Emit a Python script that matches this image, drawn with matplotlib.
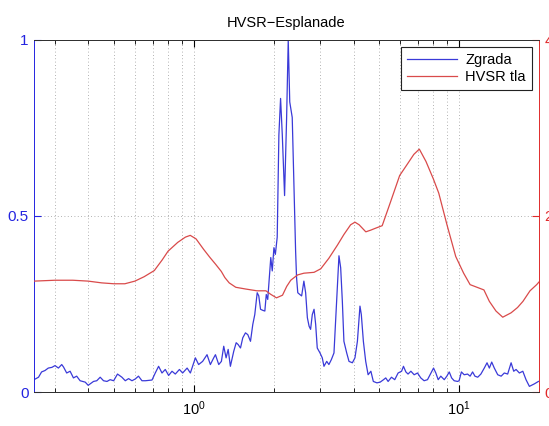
import matplotlib
matplotlib.use('Agg')
import matplotlib.pyplot as plt
from matplotlib.ticker import LogLocator, NullFormatter
import numpy as np

BLUE = '#3a3ad8'
RED = '#d94a4a'
AX_BLUE = '#2424e0'
AX_RED = '#e02a2a'

plt.rcParams.update({
    'font.family': ['Liberation Sans', 'DejaVu Sans'],
    'font.size': 10.5,
    'axes.linewidth': 0.7,
})

# building response (normalised), left axis
freq_z = [0.250, 0.260, 0.267, 0.275, 0.283, 0.292, 0.300, 0.309, 0.318, 0.323,
          0.332, 0.342, 0.352, 0.362, 0.373, 0.390, 0.400, 0.419, 0.431, 0.444,
          0.457, 0.471, 0.484, 0.499, 0.516, 0.536, 0.552, 0.568, 0.585, 0.602,
          0.619, 0.638, 0.657, 0.696, 0.716, 0.737, 0.759, 0.781, 0.804, 0.828,
          0.852, 0.883, 0.908, 0.944, 0.971, 1.014, 1.043, 1.080, 1.122, 1.155,
          1.189, 1.207, 1.242, 1.271, 1.297, 1.324, 1.348, 1.374, 1.415, 1.445,
          1.469, 1.500, 1.530, 1.566, 1.598, 1.636, 1.669, 1.698, 1.734, 1.758,
          1.785, 1.820, 1.853, 1.876, 1.900, 1.930, 1.951, 1.976, 2.005, 2.030,
          2.063, 2.093, 2.124, 2.156, 2.199, 2.238, 2.270, 2.300, 2.350, 2.385,
          2.420, 2.440, 2.466, 2.510, 2.550, 2.600, 2.640, 2.680, 2.720, 2.756,
          2.797, 2.840, 2.880, 2.920, 2.990, 3.050, 3.095, 3.170, 3.230, 3.300,
          3.376, 3.456, 3.525, 3.578, 3.630, 3.680, 3.770, 3.846, 3.960, 4.050,
          4.137, 4.230, 4.280, 4.357, 4.446, 4.540, 4.650, 4.750, 4.900, 5.040,
          5.190, 5.290, 5.400, 5.560, 5.720, 5.890, 6.070, 6.170, 6.300, 6.420,
          6.580, 6.770, 6.970, 7.170, 7.380, 7.600, 7.830, 8.010, 8.170, 8.340,
          8.530, 8.790, 8.990, 9.180, 9.370, 9.580, 9.870, 10.00, 10.20, 10.45,
          10.76, 11.00, 11.24, 11.47, 11.75, 12.08, 12.44, 12.74, 13.00, 13.27,
          13.57, 13.98, 14.40, 14.80, 15.24, 15.70, 16.06, 16.39, 16.87, 17.38,
          17.87, 18.40, 19.20, 19.90]
amp_z = [0.035, 0.042, 0.057, 0.061, 0.068, 0.070, 0.075, 0.068, 0.078, 0.071,
         0.054, 0.059, 0.040, 0.045, 0.032, 0.028, 0.019, 0.030, 0.032, 0.042,
         0.032, 0.030, 0.035, 0.032, 0.051, 0.042, 0.032, 0.038, 0.032, 0.037,
         0.045, 0.032, 0.032, 0.034, 0.054, 0.073, 0.054, 0.064, 0.047, 0.059,
         0.051, 0.064, 0.054, 0.068, 0.054, 0.097, 0.078, 0.087, 0.106, 0.078,
         0.097, 0.106, 0.078, 0.087, 0.130, 0.097, 0.121, 0.073, 0.116, 0.140,
         0.135, 0.125, 0.154, 0.168, 0.163, 0.144, 0.192, 0.220, 0.282, 0.273,
         0.235, 0.232, 0.230, 0.277, 0.263, 0.334, 0.382, 0.344, 0.410, 0.391,
         0.440, 0.730, 0.834, 0.730, 0.558, 0.777, 1.000, 0.824, 0.780, 0.587,
         0.400, 0.325, 0.282, 0.277, 0.273, 0.315, 0.282, 0.211, 0.187, 0.178,
         0.220, 0.235, 0.192, 0.125, 0.111, 0.097, 0.073, 0.087, 0.078, 0.092,
         0.111, 0.258, 0.387, 0.353, 0.258, 0.144, 0.111, 0.087, 0.083, 0.097,
         0.144, 0.244, 0.220, 0.144, 0.087, 0.049, 0.059, 0.030, 0.026, 0.028,
         0.035, 0.040, 0.030, 0.042, 0.035, 0.054, 0.059, 0.073, 0.057, 0.051,
         0.059, 0.049, 0.054, 0.040, 0.032, 0.035, 0.054, 0.068, 0.054, 0.035,
         0.045, 0.035, 0.045, 0.057, 0.040, 0.032, 0.030, 0.032, 0.057, 0.049,
         0.051, 0.045, 0.057, 0.045, 0.042, 0.051, 0.068, 0.083, 0.068, 0.085,
         0.068, 0.049, 0.045, 0.054, 0.051, 0.083, 0.059, 0.064, 0.054, 0.059,
         0.035, 0.016, 0.023, 0.030]

# ground HVSR curve, right axis
freq_t = [0.25, 0.30, 0.35, 0.40, 0.45, 0.50, 0.55, 0.60, 0.65, 0.71,
          0.76, 0.80, 0.87, 0.93, 0.97, 1.02, 1.09, 1.15, 1.21, 1.27,
          1.31, 1.36, 1.44, 1.57, 1.73, 1.87, 1.95, 2.05, 2.16, 2.24,
          2.32, 2.46, 2.60, 2.84, 3.01, 3.23, 3.48, 3.68, 3.90, 4.05,
          4.20, 4.45, 4.65, 4.83, 5.13, 5.50, 5.97, 6.35, 6.75, 7.08,
          7.50, 8.00, 8.38, 9.00, 9.71, 10.4, 11.0, 12.4, 13.0, 13.77,
          14.6, 15.7, 16.6, 17.4, 18.5, 19.6, 20.0]
hvsr_t = [1.26, 1.27, 1.27, 1.26, 1.24, 1.23, 1.23, 1.26, 1.31, 1.38,
          1.50, 1.60, 1.70, 1.76, 1.78, 1.74, 1.62, 1.53, 1.45, 1.37,
          1.30, 1.24, 1.19, 1.17, 1.15, 1.15, 1.11, 1.07, 1.10, 1.20,
          1.27, 1.33, 1.35, 1.36, 1.40, 1.52, 1.67, 1.79, 1.90, 1.93,
          1.90, 1.82, 1.84, 1.86, 1.89, 2.15, 2.46, 2.58, 2.70, 2.76,
          2.62, 2.42, 2.26, 1.90, 1.54, 1.35, 1.22, 1.16, 1.03, 0.92,
          0.85, 0.90, 0.96, 1.03, 1.15, 1.22, 1.25]

fig = plt.figure(figsize=(5.49, 4.26), dpi=100)
ax = fig.add_axes([34 / 549, 1 - 392 / 426, 505 / 549, 352 / 426])
ax2 = ax.twinx()

l1, = ax.plot(freq_z, amp_z, color=BLUE, lw=0.9, label='Zgrada')
l2, = ax2.plot(freq_t, hvsr_t, color=RED, lw=0.9, label='HVSR tla')

ax.set_xscale('log')
ax.set_xlim(0.25, 20)
ax.set_ylim(0, 1)
ax2.set_ylim(0, 4)
ax.set_yticks([0, 0.5, 1])
ax.set_yticklabels(['0', '0.5', '1'])
ax2.set_yticks([0, 2, 4])
ax2.set_yticklabels(['0', '2', '4'])

ax.xaxis.set_minor_locator(LogLocator(base=10, subs=np.arange(2, 10)))
ax.xaxis.set_minor_formatter(NullFormatter())

# dotted grid on every decade sub-division plus the 0.5 line
ax.grid(True, which='both', axis='x', linestyle=(0, (1, 3)), color='#999999', lw=0.6)
ax.grid(True, which='major', axis='y', linestyle=(0, (1, 3)), color='#999999', lw=0.6)

ax.tick_params(axis='x', which='both', direction='in', top=True, labelsize=10.5, pad=5)
ax.tick_params(axis='x', which='major', length=5)
ax.tick_params(axis='x', which='minor', length=3)
ax.tick_params(axis='y', direction='in', length=5, colors=AX_BLUE, labelsize=11, pad=4)
ax2.tick_params(axis='y', direction='in', length=5, colors=AX_RED, labelsize=11, pad=4)

ax.spines['left'].set_color(AX_BLUE)
ax.spines['right'].set_visible(False)
ax2.spines['left'].set_visible(False)
ax2.spines['right'].set_color(AX_RED)
ax2.spines['top'].set_color('#333333')
ax2.spines['bottom'].set_color('#333333')

ax.set_title('HVSR\u2212Esplanade', fontsize=10.5, pad=9)

leg = ax2.legend(handles=[l1, l2], loc='upper right', fontsize=10.5,
                 fancybox=False, framealpha=1, edgecolor='#222222',
                 handlelength=3.4, borderaxespad=0.5, borderpad=0.4,
                 labelspacing=0.2, handletextpad=0.6)
leg.get_frame().set_linewidth(0.8)

fig.savefig('out.png', dpi=100)
